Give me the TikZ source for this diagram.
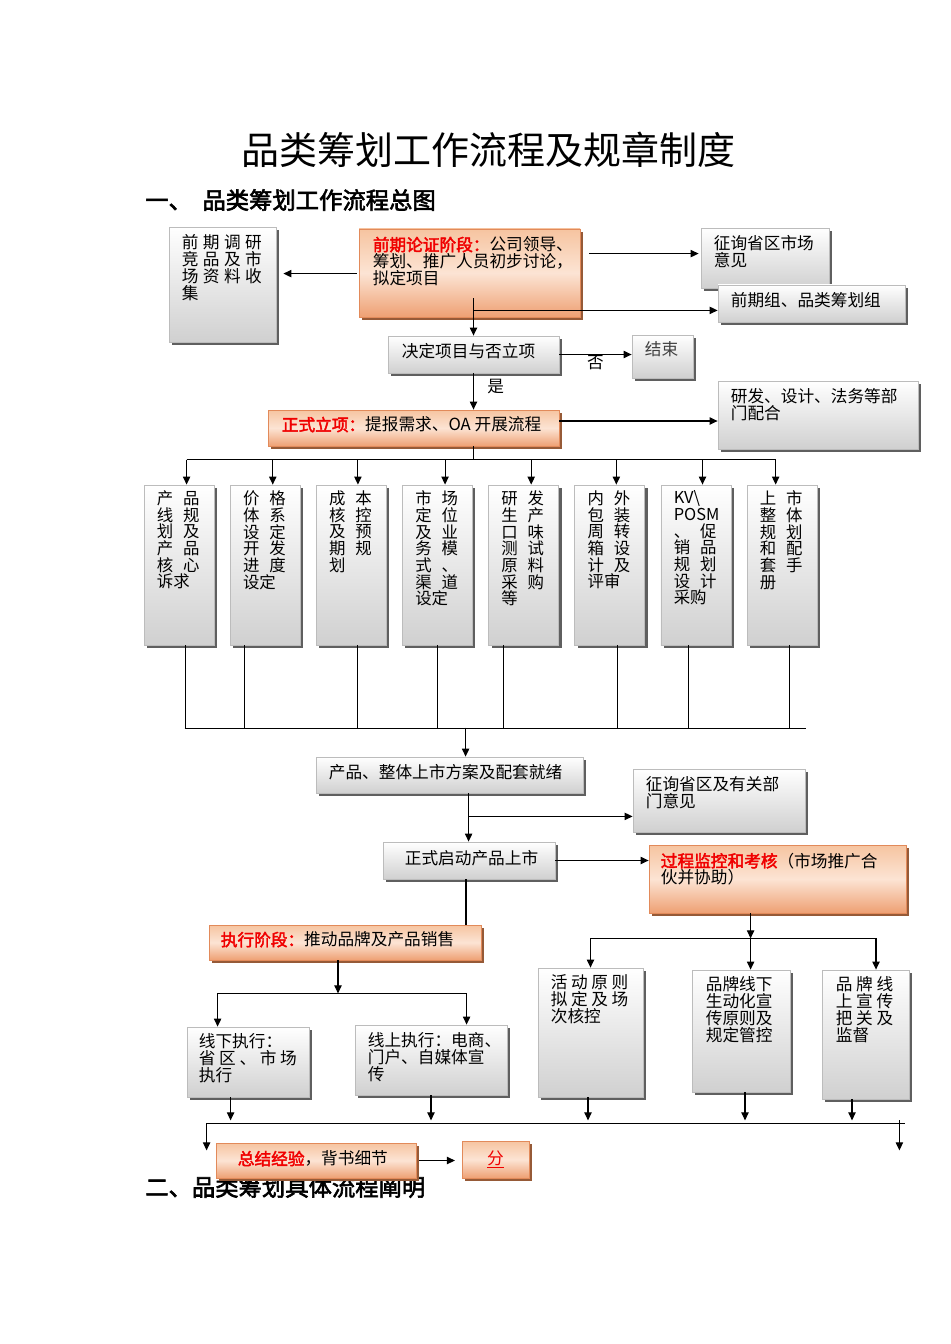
\documentclass[tikz,border=0pt]{standalone}
\usepackage{fontspec}
\setmainfont{Noto Sans CJK SC}[AutoFakeBold=2.5]
\usetikzlibrary{arrows.meta,fit,shadows}

\definecolor{boxline}{RGB}{188,188,188}
\definecolor{boxbot}{RGB}{208,208,208}
\definecolor{boxshade}{RGB}{95,95,95}
\definecolor{orgtop}{RGB}{246,196,160}
\definecolor{orgmid}{RGB}{252,228,212}
\definecolor{orgbot}{RGB}{238,160,115}
\definecolor{orgline}{RGB}{226,138,90}
\definecolor{orgshade}{RGB}{150,90,55}
\definecolor{hired}{RGB}{240,0,0}

\newcommand\stage[1]{{\color{hired}\bfseries #1}}
\newcommand\two[2]{\makebox[32pt][s]{#1\hfill#2}}
\newcommand\spread[2]{\makebox[#1][s]{#2}}

\tikzset{
  gbox/.style={draw=boxline, line width=0.6pt, top color=white, bottom color=boxbot, inner sep=0pt,
    drop shadow={shadow xshift=2.2pt, shadow yshift=-2.2pt, fill=boxshade, opacity=1}},
  obox/.style={draw=orgline, line width=0.6pt, top color=orgtop, bottom color=orgbot, middle color=orgmid, inner sep=0pt,
    drop shadow={shadow xshift=2.2pt, shadow yshift=-2.2pt, fill=orgshade, opacity=1}},
  txt/.style={anchor=north west, inner sep=0pt, align=left, font=\fontsize{12.5}{12.6}\selectfont},
  vtxt/.style={txt, font=\fontsize{12.3}{12.5}\selectfont},
  lbl/.style={inner sep=0pt, font=\fontsize{12.5}{12.6}\selectfont},
  arr/.style={-{Triangle[length=6pt,width=5.5pt]}, line width=0.8pt},
  link/.style={line width=0.8pt},
}

\begin{document}
\begin{tikzpicture}[x=0.75pt,y=-0.75pt]
\useasboundingbox (0,0) rectangle (950,1344);

\node[inner sep=0pt, font=\fontsize{28.5}{30}\selectfont] (title) at (488,150) {品类筹划工作流程及规章制度};
\node[anchor=west, inner sep=0pt, font=\fontsize{17.5}{18}\selectfont\bfseries] (head1) at (145,200) {一、\hspace{0.45em}品类筹划工作流程总图};
\node[anchor=west, inner sep=0pt, font=\fontsize{17.5}{18}\selectfont\bfseries] (head2) at (145,1187) {二、品类筹划具体流程阐明};

% boxes
\node[gbox, fit={(169,227) (276,342)}] (pre) {};
\node[obox, fit={(359,229) (580,317)}] (demo) {};
\node[gbox, fit={(701,228) (829,288)}] (ask) {};
\node[gbox, fit={(718,285) (905,322)}] (grp) {};
\node[gbox, fit={(388,336) (559,373)}] (dec) {};
\node[gbox, fit={(632,335) (693,378)}] (stop) {};
\node[obox, fit={(268,410) (559,446)}] (proj) {};
\node[gbox, fit={(718,381) (918,449)}] (dept) {};
\foreach \i [evaluate=\i as \xl using 144+86.15*(\i-1)] in {1,...,8}
  \node[gbox, fit={(\xl,485) (\xl+70,645)}] (t\i) {};
\node[gbox, fit={(316,757) (583,793)}] (ready) {};
\node[gbox, fit={(633,769) (805,832)}] (ask2) {};
\node[gbox, fit={(383,842) (555,879)}] (launch) {};
\node[obox, fit={(649,845) (906,913)}] (watch) {};
\node[obox, fit={(209,925) (481,960)}] (exec) {};
\node[gbox, fit={(187,1027) (309,1097)}] (off) {};
\node[gbox, fit={(355,1025) (507,1095)}] (on) {};
\node[gbox, fit={(538,968) (643,1097)}] (act) {};
\node[gbox, fit={(692,970) (790,1092)}] (brand) {};
\node[gbox, fit={(822,970) (909,1099)}] (web) {};
\node[obox, fit={(216,1143) (416,1178)}] (sum) {};
\node[obox, fit={(462,1141) (529,1178)}] (fen) {};

% texts
\node[txt] (pre-t) at ([shift={(13,8)}]pre.north west) {\spread{60pt}{前 期 调 研}\\\spread{60pt}{竞 品 及 市}\\\spread{60pt}{场 资 料 收}\\集};
\node[txt] (demo-t) at ([shift={(14,8)}]demo.north west) {\stage{前期论证阶段：}公司领导、\\筹划、推广人员初步讨论，\\拟定项目};
\node[txt] (ask-t) at ([shift={(13,8)}]ask.north west) {征询省区市场\\意见};
\node[txt] (grp-t) at ([shift={(13,8)}]grp.north west) {前期组、品类筹划组};
\node[lbl] (dec-t) at ([shift={(-5,-3)}]dec.center) {决定项目与否立项};
\node[txt, text=black!75] (stop-t) at ([shift={(13,7)}]stop.north west) {结束};
\node[txt] (proj-t) at ([shift={(14,7)}]proj.north west) {\stage{正式立项：}提报需求、OA 开展流程};
\node[txt] (dept-t) at ([shift={(13,8)}]dept.north west) {研发、设计、法务等部\\门配合};
\node[vtxt] (t1-t) at ([shift={(13,6)}]t1.north west) {\two{产}{品}\\\two{线}{规}\\\two{划}{及}\\\two{产}{品}\\\two{核}{心}\\诉求};
\node[vtxt] (t2-t) at ([shift={(13,6)}]t2.north west) {\two{价}{格}\\\two{体}{系}\\\two{设}{定}\\\two{开}{发}\\\two{进}{度}\\设定};
\node[vtxt] (t3-t) at ([shift={(13,6)}]t3.north west) {\two{成}{本}\\\two{核}{控}\\\two{及}{预}\\\two{期}{规}\\划};
\node[vtxt] (t4-t) at ([shift={(13,6)}]t4.north west) {\two{市}{场}\\\two{定}{位}\\\two{及}{业}\\\two{务}{模}\\\two{式}{、}\\\two{渠}{道}\\设定};
\node[vtxt] (t5-t) at ([shift={(13,6)}]t5.north west) {\two{研}{发}\\\two{生}{产}\\\two{口}{味}\\\two{测}{试}\\\two{原}{料}\\\two{采}{购}\\等};
\node[vtxt] (t6-t) at ([shift={(13,6)}]t6.north west) {\two{内}{外}\\\two{包}{装}\\\two{周}{转}\\\two{箱}{设}\\\two{计}{及}\\评审};
\node[vtxt] (t7-t) at ([shift={(13,6)}]t7.north west) {KV\textbackslash\\POSM\\\two{、}{促}\\\two{销}{品}\\\two{规}{划}\\\two{设}{计}\\采购};
\node[vtxt] (t8-t) at ([shift={(13,6)}]t8.north west) {\two{上}{市}\\\two{整}{体}\\\two{规}{划}\\\two{和}{配}\\\two{套}{手}\\册};
\node[txt] (ready-t) at ([shift={(13,7)}]ready.north west) {产品、整体上市方案及配套就绪};
\node[txt] (ask2-t) at ([shift={(13,8)}]ask2.north west) {征询省区及有关部\\门意见};
\node[txt] (launch-t) at ([shift={(22,8)}]launch.north west) {正式启动产品上市};
\node[txt] (watch-t) at ([shift={(12,8)}]watch.north west) {\stage{过程监控和考核}（市场推广合\\伙并协助）};
\node[txt] (exec-t) at ([shift={(12,7)}]exec.north west) {\stage{执行阶段：}推动品牌及产品销售};
\node[txt] (off-t) at ([shift={(12,7)}]off.north west) {线下执行：\\\spread{73.5pt}{省 区 、 市 场}\\执行};
\node[txt] (on-t) at ([shift={(13,8)}]on.north west) {线上执行：电商、\\门户、自媒体宣\\传};
\node[txt] (act-t) at ([shift={(13,7)}]act.north west) {\spread{58pt}{活 动 原 则}\\\spread{58pt}{拟 定 及 场}\\次核控};
\node[txt] (brand-t) at ([shift={(14,7)}]brand.north west) {品牌线下\\生动化宣\\传原则及\\规定管控};
\node[txt] (web-t) at ([shift={(14,7)}]web.north west) {\spread{43pt}{品 牌 线}\\\spread{43pt}{上 宣 传}\\\spread{43pt}{把 关 及}\\监督};
\node[txt] (sum-t) at ([shift={(22,8)}]sum.north west) {\stage{总结经验}，背书细节};
\node[lbl, text=hired] (fen-t) at (fen.center) {\underline{分}};

% connectors
\draw[arr] ([shift={(-2,45)}]demo.north west) -- ([shift={(7,47)}]pre.north east);
\draw[arr] ([shift={(9,25)}]demo.north east) -- ([shift={(-2,26)}]ask.north west);
\coordinate (c1) at (dec.north |- demo.south);
\draw[arr] ([shift={(0,-19)}]c1) -- (dec.north);
\coordinate (c2) at ([shift={(0,-7)}]c1);
\draw[arr] (c2) -- (c2 -| grp.west);
\draw[arr] (dec.east) -- (dec.east -| stop.west) node[midway, anchor=north, lbl] {否};
\draw[arr] (dec.south) -- (dec.south |- proj.north) node[midway, anchor=west, lbl, xshift=10pt, yshift=4pt] {是};
\coordinate (c3) at ([shift={(0,-7)}]proj.east);
\draw[arr] (c3) -- (c3 -| dept.west);

\coordinate (c4) at (dec.south |- proj.south);
\draw[link] (c4) -- ++(0,14);
\draw[link] ([shift={(43,-25)}]t1.north west) -- ([shift={(29,-25)}]t8.north west);
\foreach \i/\dx in {1/43,2/43,3/42,4/43,5/43,6/42,7/42,8/29}
  \draw[arr] ([shift={(\dx,-25)}]t\i.north west) -- ([shift={(\dx,0)}]t\i.north west);
\foreach \i/\dx in {1/42,2/15,3/42,4/35,5/15,6/43,7/28,8/43}
  \draw[link] ([shift={(\dx,0)}]t\i.south west) -- ++(0,83);
\draw[link] ([shift={(41,83)}]t1.south west) -- ([shift={(59,83)}]t8.south west);

\draw[arr] ([shift={(150,-29)}]ready.north west) -- ([shift={(150,0)}]ready.north west);
\coordinate (c5) at ([shift={(153,0)}]ready.south west);
\draw[arr] (c5) -- (c5 |- launch.north);
\coordinate (c6) at ([shift={(0,23)}]c5);
\draw[arr] (c6) -- (c6 -| ask2.west);
\draw[arr] (launch.east) -- (launch.east -| watch.west);
\coordinate (c7) at ([shift={(-3,0)}]launch.south);
\draw[link] (c7) -- (c7 |- exec.north);

\coordinate (c8) at ([shift={(102,25)}]watch.south west);
\draw[arr] ([shift={(102,0)}]watch.south west) -- (c8);
\coordinate (c9) at ([shift={(10.5,0)}]web.north);
\draw[link] (c8 -| act.north) -- (c8 -| c9);
\draw[arr] (c8 -| act.north) -- (act.north);
\draw[arr] (c8) -- (c8 |- brand.north);
\draw[arr] (c8 -| c9) -- (c9);

\coordinate (c10) at ([shift={(-7,33)}]exec.south);
\draw[arr] ([shift={(-7,0)}]exec.south) -- (c10);
\coordinate (c11) at ([shift={(31,0)}]off.north west);
\coordinate (c12) at ([shift={(112,0)}]on.north west);
\draw[link] (c10 -| c11) -- (c10 -| c12);
\draw[arr] (c10 -| c11) -- (c11);
\draw[arr] (c10 -| c12) -- (c12);

\coordinate (c13) at ([shift={(20,26)}]off.south west);
\coordinate (c14) at ([shift={(-4,24)}]web.south east);
\draw[link] (c13) -- (c14);
\draw[arr] ([shift={(44,0)}]off.south west) -- ++(0,23);
\draw[arr] (on.south) -- ++(0,25);
\draw[arr] ([shift={(-2.5,0)}]act.south) -- ++(0,23);
\draw[arr] ([shift={(4,0)}]brand.south) -- ++(0,28);
\draw[arr] ([shift={(-13.5,0)}]web.south) -- ++(0,21);
\draw[arr] (c13) -- ++(0,27);
\draw[arr] ([shift={(-6,-3)}]c14) -- ++(0,30);
\draw[arr, shorten >=5pt] ([shift={(3,0)}]sum.east) -- (sum.east -| fen.west);
\end{tikzpicture}
\end{document}
